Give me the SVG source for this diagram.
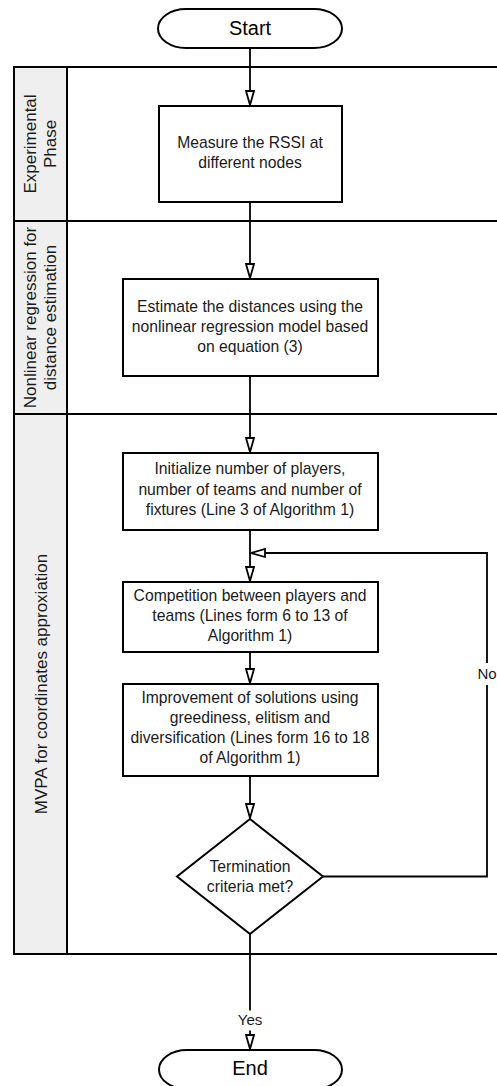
<svg xmlns="http://www.w3.org/2000/svg" width="497" height="1086" viewBox="0 0 497 1086">
<style>
  .shape { fill: #ffffff; stroke: #000000; stroke-width: 2; }
  .pool { fill: none; stroke: #000000; stroke-width: 2; }
  .header { fill: #efefef; stroke: #000000; stroke-width: 2; }
  .conn { fill: none; stroke: #000000; stroke-width: 1.8; }
  .t { font-family: "Liberation Sans", Arial, sans-serif; font-size: 15.7px; fill: #1a1a1a; text-anchor: middle; }
  .term { font-family: "Liberation Sans", Arial, sans-serif; font-size: 20px; fill: #000000; text-anchor: middle; }
  .lane { font-family: "Liberation Sans", Arial, sans-serif; font-size: 17px; fill: #1a1a1a; text-anchor: middle; }
  .lbl { font-family: "Liberation Sans", Arial, sans-serif; font-size: 15px; fill: #1a1a1a; text-anchor: middle; }
</style>
<defs>
  <marker id="arrow" viewBox="0 0 16 10" refX="15" refY="5" markerWidth="16" markerHeight="10" markerUnits="userSpaceOnUse" orient="auto">
    <path d="M1,1 L15,5 L1,9 Z" fill="#ffffff" stroke="#000000" stroke-width="1.8" stroke-linejoin="miter"/>
  </marker>
</defs>
<rect width="497" height="1086" fill="#ffffff"/>

<g id="pool">
  <rect class="header" x="14" y="67" width="53" height="887"/>
  <rect class="pool" x="14" y="67" width="500" height="887"/>
  <line class="pool" x1="14" y1="221" x2="514" y2="221"/>
  <line class="pool" x1="14" y1="414" x2="514" y2="414"/>
  <line class="pool" x1="67" y1="67" x2="67" y2="954"/>
</g>

<g id="lane-experimental">
  <text class="lane" transform="translate(36,144) rotate(-90)"><tspan x="0" y="0">Experimental</tspan><tspan x="0" y="20">Phase</tspan></text>
</g>
<g id="lane-regression">
  <text class="lane" transform="translate(36,317.5) rotate(-90)"><tspan x="0" y="0">Nonlinear regression for</tspan><tspan x="0" y="20">distance estimation</tspan></text>
</g>
<g id="lane-mvpa">
  <text class="lane" transform="translate(46.5,684) rotate(-90)" x="0" y="0">MVPA for coordinates approxiation</text>
</g>

<g id="connectors">
  <line class="conn" x1="250" y1="48" x2="250" y2="105" marker-end="url(#arrow)"/>
  <line class="conn" x1="250" y1="202" x2="250" y2="278" marker-end="url(#arrow)"/>
  <line class="conn" x1="250" y1="376" x2="250" y2="452" marker-end="url(#arrow)"/>
  <line class="conn" x1="250" y1="530" x2="250" y2="581" marker-end="url(#arrow)"/>
  <line class="conn" x1="250" y1="652" x2="250" y2="683" marker-end="url(#arrow)"/>
  <line class="conn" x1="250" y1="776" x2="250" y2="818" marker-end="url(#arrow)"/>
  <polyline class="conn" points="323,876.5 487,876.5 487,553 251,553" marker-end="url(#arrow)"/>
  <line class="conn" x1="250" y1="934" x2="250" y2="1049" marker-end="url(#arrow)"/>
  <rect x="476" y="663" width="22" height="22" fill="#ffffff"/>
  <text class="lbl" x="487" y="678.5">No</text>
  <rect x="236" y="1010.5" width="28" height="20" fill="#ffffff"/>
  <text class="lbl" x="250" y="1025">Yes</text>
</g>

<g id="start">
  <rect class="shape" x="158" y="9" width="184" height="39" rx="28" ry="19.5"/>
  <text class="term" x="250" y="34.5">Start</text>
</g>

<g id="measure">
  <rect class="shape" x="159" y="106" width="183" height="96"/>
  <text class="t" x="250" y="147.5">Measure the RSSI at</text>
  <text class="t" x="250" y="167.5">different nodes</text>
</g>

<g id="estimate">
  <rect class="shape" x="123" y="279" width="255" height="97"/>
  <text class="t" x="250" y="311.5">Estimate the distances using the</text>
  <text class="t" x="250" y="331.5">nonlinear regression model based</text>
  <text class="t" x="250" y="351.5">on equation (3)</text>
</g>

<g id="initialize">
  <rect class="shape" x="123" y="453" width="255" height="77"/>
  <text class="t" x="250" y="474">Initialize number of players,</text>
  <text class="t" x="250" y="494.5">number of teams and number of</text>
  <text class="t" x="250" y="515">fixtures (Line 3 of Algorithm 1)</text>
</g>

<g id="competition">
  <rect class="shape" x="123" y="582" width="255" height="70"/>
  <text class="t" x="250" y="600.5">Competition between players and</text>
  <text class="t" x="250" y="620.5">teams (Lines form 6 to 13 of</text>
  <text class="t" x="250" y="640.5">Algorithm 1)</text>
</g>

<g id="improvement">
  <rect class="shape" x="123" y="684" width="255" height="92"/>
  <text class="t" x="250" y="702.5">Improvement of solutions using</text>
  <text class="t" x="250" y="722.5">greediness, elitism and</text>
  <text class="t" x="250" y="742.5">diversification (Lines form 16 to 18</text>
  <text class="t" x="250" y="762.5">of Algorithm 1)</text>
</g>

<g id="decision">
  <polygon class="shape" points="250,819 323,876.5 250,934 177,876.5"/>
  <text class="t" x="250" y="871.5">Termination</text>
  <text class="t" x="250" y="891.5">criteria met?</text>
</g>

<g id="end">
  <rect class="shape" x="159" y="1050" width="183" height="39" rx="28" ry="19.5"/>
  <text class="term" x="250" y="1075">End</text>
</g>
</svg>
